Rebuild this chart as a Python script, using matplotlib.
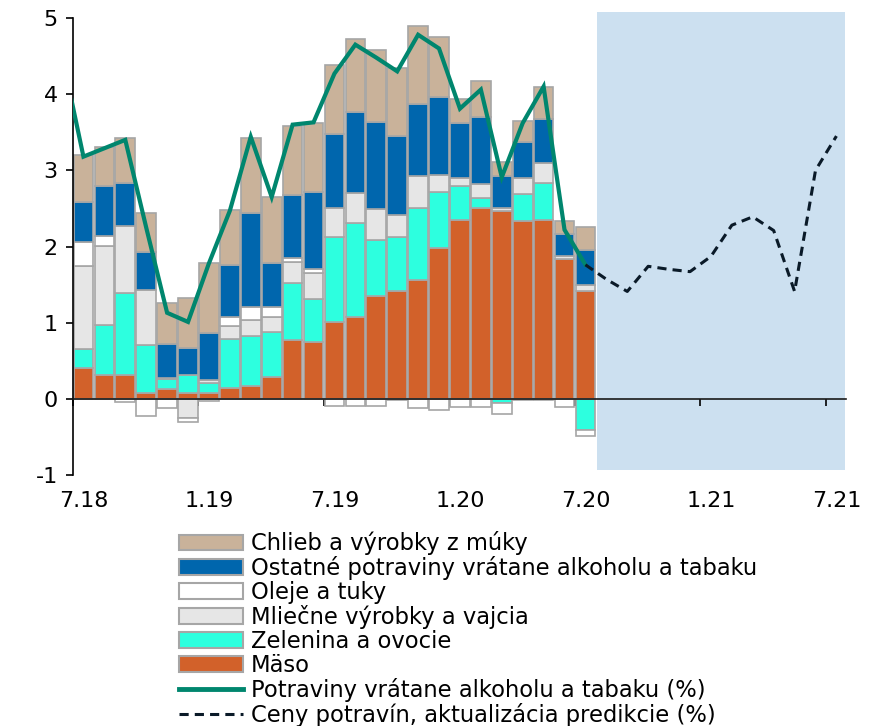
import numpy as np
import matplotlib.pyplot as plt
from matplotlib.patches import Patch, Rectangle
from matplotlib.lines import Line2D
import matplotlib.transforms as mtransforms

# monthly contributions 7.18 - 7.20
maso = [0.41, 0.31, 0.31, 0.08, 0.13, 0.08, 0.08, 0.14, 0.17, 0.29, 0.77, 0.75, 1.01,
        1.08, 1.35, 1.41, 1.56, 1.98, 2.35, 2.50, 2.46, 2.34, 2.35, 1.83, 1.42]
zelenina = [0.24, 0.66, 1.08, 0.63, 0.13, 0.23, 0.13, 0.64, 0.66, 0.59, 0.75, 0.56, 1.12,
            1.23, 0.73, 0.72, 0.95, 0.73, 0.44, 0.14, -0.05, 0.35, 0.49, 0.0, -0.41]
mliecne = [1.09, 1.04, 0.88, 0.72, 0.02, -0.25, 0.04, 0.17, 0.20, 0.20, 0.28, 0.34, 0.37,
           0.39, 0.41, 0.28, 0.41, 0.23, 0.11, 0.18, 0.04, 0.21, 0.25, 0.04, 0.08]
oleje = [0.32, 0.13, -0.04, -0.22, -0.12, -0.05, -0.03, 0.12, 0.17, 0.12, 0.05, 0.05, -0.10,
         -0.09, -0.10, -0.02, -0.12, -0.15, -0.11, -0.11, -0.15, -0.01, -0.01, -0.11, -0.08]
ostatne = [0.53, 0.65, 0.57, 0.50, 0.44, 0.36, 0.61, 0.69, 1.24, 0.59, 0.83, 1.01, 0.98,
           1.07, 1.14, 1.04, 0.95, 1.02, 0.72, 0.88, 0.43, 0.47, 0.59, 0.30, 0.46]
chlieb = [0.61, 0.52, 0.59, 0.51, 0.54, 0.65, 0.92, 0.72, 0.99, 0.86, 0.90, 0.91, 0.90,
          0.95, 0.95, 0.89, 1.02, 0.79, 0.32, 0.47, 0.18, 0.28, 0.41, 0.16, 0.29]

# total food prices, 6.18 - 7.20 (first point falls left of the axis)
potraviny = [4.48, 3.18, 3.29, 3.40, 2.25, 1.13, 1.01, 1.78, 2.47, 3.44, 2.65, 3.60, 3.63,
             4.27, 4.65, 4.48, 4.30, 4.78, 4.60, 3.81, 4.06, 2.91, 3.62, 4.10, 2.22, 1.76]
# forecast 7.20 - 7.21
predikcia = [1.76, 1.57, 1.41, 1.74, 1.70, 1.67, 1.87, 2.28, 2.39, 2.21, 1.41, 3.00, 3.45]

tick_labels = ['7.18', '1.19', '7.19', '1.20', '7.20', '1.21', '7.21']

series = [
    (maso, '#D2612A', 'Mäso'),
    (zelenina, '#2DFFDF', 'Zelenina a ovocie'),
    (mliecne, '#E6E6E6', 'Mliečne výrobky a vajcia'),
    (oleje, '#FFFFFF', 'Oleje a tuky'),
    (ostatne, '#0066AD', 'Ostatné potraviny vrátane alkoholu a tabaku'),
    (chlieb, '#C9B29A', 'Chlieb a výrobky z múky'),
]
edge = '#A6A6A6'
green = '#00866E'
dark = '#0A1A28'

plt.rcParams['font.family'] = ['DejaVu Sans']
plt.rcParams['axes.unicode_minus'] = False
fig = plt.figure(figsize=(8.72, 7.26), dpi=100)
ax = fig.add_axes([0.0837, 0.3457, 0.8863, 0.6295])

# forecast background
ax.add_patch(Rectangle((25.05, -0.94), 11.85, 6.02, facecolor='#CCE0F0',
                       edgecolor='none', zorder=0, clip_on=False))

x = np.arange(len(maso)) + 0.5
pos = np.zeros(len(maso))
neg = np.zeros(len(maso))
for vals, col, name in series:
    v = np.array(vals)
    bottom = np.where(v >= 0, pos, neg)
    ax.bar(x, v, width=0.94, bottom=bottom, color=col, edgecolor=edge,
           linewidth=1.2, zorder=2)
    pos += np.clip(v, 0, None)
    neg += np.clip(v, None, 0)

xl = np.arange(len(potraviny)) - 0.5
ax.plot(xl, potraviny, color=green, lw=3.0, zorder=4, solid_joinstyle='miter')
xp = np.arange(len(predikcia)) + 24.5
ax.plot(xp, predikcia, color=dark, lw=2.2, ls=(0, (3, 2)), zorder=4)

ax.set_xlim(0, 36.95)
ax.set_ylim(-1, 5)
ax.set_yticks(range(-1, 6))
ax.tick_params(axis='y', labelsize=16, length=5, width=1.2, direction='out', pad=6)

ax.spines['top'].set_visible(False)
ax.spines['right'].set_visible(False)
ax.spines['left'].set_linewidth(1.2)
ax.spines['bottom'].set_position(('data', 0))
ax.spines['bottom'].set_linewidth(1.2)
ax.spines['bottom'].set_color('#1a1a1a')
ax.spines['bottom'].set_zorder(3)
ax.set_xticks(range(0, 37, 6))
ax.set_xticklabels([])
ax.tick_params(axis='x', length=5, width=1.2, direction='out')

trans = mtransforms.blended_transform_factory(ax.transData, ax.transAxes)
for i, lab in enumerate(tick_labels):
    ax.text(i * 6 + 0.5, -0.057, lab, transform=trans, ha='center', va='center',
            fontsize=16)

handles = [Patch(facecolor=col, edgecolor=edge, linewidth=1.5, label=name)
           for vals, col, name in series[::-1]]
handles.append(Line2D([], [], color=green, lw=3.5,
                      label='Potraviny vrátane alkoholu a tabaku (%)'))
handles.append(Line2D([], [], color=dark, lw=2.2, ls=(0, (3, 2)),
                      label='Ceny potravín, aktualizácia predikcie (%)'))
fig.legend(handles=handles, loc='upper left', bbox_to_anchor=(0.205, 0.268),
           frameon=False, fontsize=16.3, labelspacing=0.04, handlelength=2.85,
           handletextpad=0.35, borderpad=0, borderaxespad=0)

fig.savefig('out.png', dpi=100)
